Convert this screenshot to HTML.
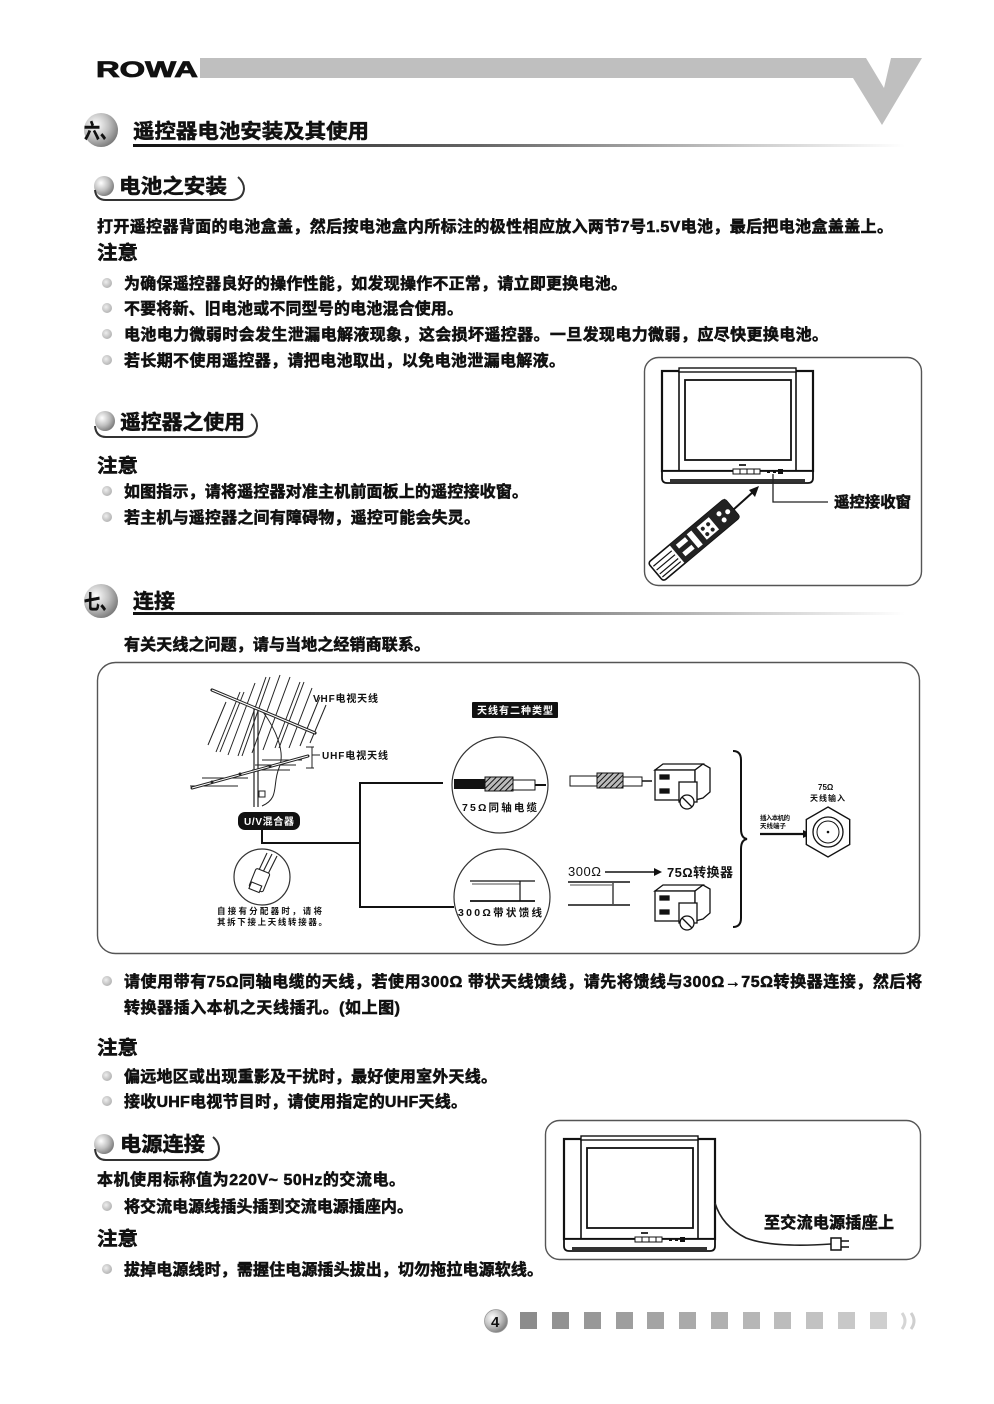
<!DOCTYPE html>
<html><head><meta charset="utf-8"><style>
html,body{margin:0;padding:0;background:#fff;}
svg{display:block;}
.t{font-family:"Liberation Sans","Noto Sans CJK SC",sans-serif;font-weight:700;fill:#111;stroke:#111;stroke-width:0.55;}
.s{font-family:"Liberation Sans","Noto Sans CJK SC",sans-serif;font-weight:700;fill:#111;}
.w{font-family:"Liberation Sans","Noto Sans CJK SC",sans-serif;font-weight:700;fill:#fff;}
.n{font-family:"Liberation Sans","Noto Sans CJK SC",sans-serif;font-weight:400;fill:#111;}
</style></head><body>
<svg width="994" height="1404" viewBox="0 0 994 1404" xmlns="http://www.w3.org/2000/svg">
<defs>
<linearGradient id="ul" x1="0" y1="0" x2="1" y2="0">
<stop offset="0" stop-color="#111"/><stop offset="0.45" stop-color="#666"/><stop offset="0.8" stop-color="#ccc"/><stop offset="1" stop-color="#fff"/>
</linearGradient>
<radialGradient id="sph" cx="0.35" cy="0.35" r="0.7">
<stop offset="0" stop-color="#fff"/><stop offset="0.55" stop-color="#c0c0c0"/><stop offset="1" stop-color="#7a7a7a"/>
</radialGradient>
<radialGradient id="bul" cx="0.4" cy="0.4" r="0.65">
<stop offset="0" stop-color="#eee"/><stop offset="1" stop-color="#b0b0b0"/>
</radialGradient>
<pattern id="hatch" width="4" height="4" patternUnits="userSpaceOnUse" patternTransform="rotate(45)">
<rect width="4" height="4" fill="#bbb"/><line x1="0" y1="0" x2="0" y2="4" stroke="#111" stroke-width="2"/>
</pattern>
</defs>

<!-- HEADER -->
<text x="96" y="77" class="s" font-size="22" textLength="102" lengthAdjust="spacingAndGlyphs" stroke="#111" stroke-width="0.8">ROWA</text>
<path d="M200 58 L866 58 L884 88 L891 58 L922 58 L882 125 L853 78 L200 78 Z" fill="#bfbfbf"/>

<!-- SECTION 六 -->
<circle cx="101" cy="130" r="17" fill="url(#sph)"/>
<text x="84" y="138" class="t" font-size="20" textLength="32" lengthAdjust="spacingAndGlyphs">六、</text>
<text x="133" y="138" class="t" font-size="20" textLength="236" lengthAdjust="spacingAndGlyphs">遥控器电池安装及其使用</text>
<rect x="133" y="144" width="772" height="3" fill="url(#ul)"/>

<!-- 电池之安装 -->
<circle cx="104" cy="186" r="10" fill="url(#sph)"/>
<text x="119" y="193" class="t" font-size="20" textLength="108" lengthAdjust="spacingAndGlyphs">电池之安装</text>
<path d="M95 190 Q96 200 106 200 L232 200 Q243 199 244 189 Q244 182 238 177" fill="none" stroke="#333" stroke-width="2"/>

<text x="97" y="232" class="t" font-size="16" textLength="796">打开遥控器背面的电池盒盖，然后按电池盒内所标注的极性相应放入两节7号1.5V电池，最后把电池盒盖盖上。</text>
<text x="97" y="259" class="t" font-size="19" textLength="41" lengthAdjust="spacingAndGlyphs">注意</text>

<circle cx="107" cy="283" r="5" fill="url(#bul)"/>
<text x="124" y="289" class="t" font-size="16" textLength="503">为确保遥控器良好的操作性能，如发现操作不正常，请立即更换电池。</text>
<circle cx="107" cy="308" r="5" fill="url(#bul)"/>
<text x="124" y="314" class="t" font-size="16" textLength="339">不要将新、旧电池或不同型号的电池混合使用。</text>
<circle cx="107" cy="334" r="5" fill="url(#bul)"/>
<text x="124" y="340" class="t" font-size="16" textLength="704">电池电力微弱时会发生泄漏电解液现象，这会损坏遥控器。一旦发现电力微弱，应尽快更换电池。</text>
<circle cx="107" cy="360" r="5" fill="url(#bul)"/>
<text x="124" y="366" class="t" font-size="16" textLength="441">若长期不使用遥控器，请把电池取出，以免电池泄漏电解液。</text>

<!-- 遥控器之使用 -->
<circle cx="105" cy="421" r="10" fill="url(#sph)"/>
<text x="120" y="429" class="t" font-size="20" textLength="125" lengthAdjust="spacingAndGlyphs">遥控器之使用</text>
<path d="M95 426 Q96 437 106 437 L246 437 Q256 436 257 426 Q257 419 251 414" fill="none" stroke="#333" stroke-width="2"/>
<text x="97" y="472" class="t" font-size="19" textLength="41" lengthAdjust="spacingAndGlyphs">注意</text>
<circle cx="107" cy="491" r="5" fill="url(#bul)"/>
<text x="124" y="497" class="t" font-size="16" textLength="404">如图指示，请将遥控器对准主机前面板上的遥控接收窗。</text>
<circle cx="107" cy="517" r="5" fill="url(#bul)"/>
<text x="124" y="523" class="t" font-size="16" textLength="356">若主机与遥控器之间有障碍物，遥控可能会失灵。</text>

<!-- REMOTE BOX -->
<rect x="644.5" y="357.5" width="277" height="228" rx="14" fill="none" stroke="#555" stroke-width="1.4"/>
<g transform="translate(662,368)" fill="#fff" stroke="#111">
<rect x="0" y="3" width="151" height="100" stroke-width="2.2"/>
<line x1="17" y1="3" x2="17" y2="103" stroke-width="1.6"/>
<line x1="134" y1="3" x2="134" y2="103" stroke-width="1.6"/>
<rect x="17" y="0" width="117" height="4" stroke-width="1.4"/>
<rect x="23" y="12" width="106" height="80" stroke-width="1.8"/>
<path d="M0 103 L151 103 L151 110 Q151 115 146 115 L5 115 Q0 115 0 110 Z" stroke-width="1.8"/>
<rect x="8" y="111" width="135" height="3" fill="#333" stroke="none"/>
<rect x="71" y="101" width="27" height="5" stroke-width="1"/>
<line x1="78" y1="101" x2="78" y2="106" stroke-width="1"/><line x1="85" y1="101" x2="85" y2="106" stroke-width="1"/><line x1="92" y1="101" x2="92" y2="106" stroke-width="1"/>
<rect x="77" y="96" width="7" height="2" fill="#333" stroke="none"/>
<rect x="105" y="102" width="3" height="3" fill="#111" stroke="none"/><rect x="111" y="102" width="3" height="3" fill="#111" stroke="none"/><rect x="116" y="101" width="5" height="5" fill="#111" stroke="none"/>
</g>
<polyline points="773,474 773,502 828,502" fill="none" stroke="#222" stroke-width="1.3"/>
<text x="834" y="507" class="t" font-size="15" textLength="77" lengthAdjust="spacingAndGlyphs">遥控接收窗</text>
<line x1="733" y1="510" x2="753" y2="492" stroke="#111" stroke-width="2"/>
<polygon points="759,486 749,490 755,497" fill="#111"/>
<g transform="translate(694,540) rotate(-40)">
<rect x="-50" y="-12" width="100" height="24" rx="3" fill="#fff" stroke="#111" stroke-width="1.6"/>
<line x1="-48" y1="-6" x2="-24" y2="-6" stroke="#111" stroke-width="1.2"/>
<line x1="-48" y1="-1" x2="-24" y2="-1" stroke="#111" stroke-width="1.2"/>
<line x1="-48" y1="4" x2="-24" y2="4" stroke="#111" stroke-width="1.2"/>
<line x1="-48" y1="8" x2="-24" y2="8" stroke="#111" stroke-width="1.2"/>
<rect x="-22" y="-12" width="72" height="24" fill="#222"/>
<rect x="-17" y="-8" width="12" height="5" fill="#fff"/>
<rect x="-17" y="2" width="12" height="5" fill="#fff"/>
<rect x="-2" y="-9" width="6" height="18" fill="#fff"/>
<rect x="10" y="-8" width="16" height="16" fill="#fff"/>
<circle cx="14" cy="-3" r="2" fill="#222"/><circle cx="21" cy="-3" r="2" fill="#222"/><circle cx="14" cy="4" r="2" fill="#222"/><circle cx="21" cy="4" r="2" fill="#222"/>
<circle cx="36" cy="-4" r="2.5" fill="#fff"/><circle cx="36" cy="4" r="2.5" fill="#fff"/><circle cx="44" cy="0" r="2.5" fill="#fff"/>
</g>

<!-- SECTION 七 -->
<circle cx="101" cy="601" r="17" fill="url(#sph)"/>
<text x="84" y="609" class="t" font-size="20" textLength="32" lengthAdjust="spacingAndGlyphs">七、</text>
<text x="133" y="608" class="t" font-size="20" textLength="42" lengthAdjust="spacingAndGlyphs">连接</text>
<rect x="133" y="612" width="772" height="3" fill="url(#ul)"/>
<text x="124" y="650" class="t" font-size="16" textLength="306">有关天线之问题，请与当地之经销商联系。</text>

<!-- DIAGRAM BOX -->
<rect x="97.5" y="662.5" width="822" height="291" rx="18" fill="none" stroke="#555" stroke-width="1.4"/>

<!-- antenna -->
<g stroke="#222" stroke-width="1" fill="none">
<line x1="208" y1="745" x2="226" y2="702"/>
<line x1="216" y1="752" x2="240" y2="692"/><line x1="220" y1="752" x2="244" y2="692"/>
<line x1="228" y1="755" x2="255" y2="683"/>
<line x1="238" y1="756" x2="266" y2="677"/><line x1="242" y1="756" x2="270" y2="677"/>
<line x1="252" y1="753" x2="280" y2="675"/>
<line x1="263" y1="750" x2="290" y2="677"/>
<line x1="275" y1="748" x2="300" y2="682"/><line x1="279" y1="748" x2="304" y2="682"/>
<line x1="289" y1="748" x2="312" y2="688"/>
<line x1="300" y1="746" x2="320" y2="697"/>
<line x1="310" y1="743" x2="326" y2="705"/>
<path d="M263 712 C275 728 286 752 279 768 C272 785 280 798 262 806"/>
<line x1="254" y1="708" x2="254" y2="807" stroke-width="1.2"/>
<line x1="258" y1="708" x2="258" y2="807" stroke-width="1.2"/>
<rect x="259" y="791" width="6" height="6" fill="#fff"/>
<line x1="262" y1="760" x2="302" y2="760"/>
<line x1="255" y1="765" x2="296" y2="765"/>
<line x1="252" y1="770" x2="290" y2="770"/>
<line x1="202" y1="778" x2="248" y2="778"/>
<line x1="190" y1="786" x2="238" y2="786"/>
<line x1="312" y1="747" x2="312" y2="768"/>
<line x1="306" y1="747" x2="314" y2="747"/><line x1="306" y1="768" x2="314" y2="768"/>
<line x1="312" y1="755" x2="320" y2="755"/>
</g>
<line x1="212" y1="690" x2="315" y2="733" stroke="#222" stroke-width="3.2" stroke-linecap="round"/>
<line x1="212" y1="690" x2="315" y2="733" stroke="#fff" stroke-width="1.2"/>
<line x1="192" y1="788" x2="308" y2="756" stroke="#222" stroke-width="3" stroke-linecap="round"/>
<line x1="192" y1="788" x2="308" y2="756" stroke="#fff" stroke-width="1"/>
<circle cx="212" cy="782" r="1.5" fill="#222"/><circle cx="240" cy="774" r="1.5" fill="#222"/><circle cx="270" cy="766" r="1.5" fill="#222"/>
<text x="313" y="702" class="s" font-size="10" textLength="65">VHF电视天线</text>
<text x="322" y="759" class="s" font-size="10" textLength="66">UHF电视天线</text>

<rect x="238" y="812" width="62" height="18" rx="7" fill="#111"/>
<text x="244" y="825" class="w" font-size="10" textLength="50">U/V混合器</text>

<polyline points="262,830 262,843 360,843" fill="none" stroke="#111" stroke-width="2"/>
<line x1="360" y1="782" x2="360" y2="908" stroke="#111" stroke-width="2"/>
<line x1="360" y1="783" x2="443" y2="783" stroke="#111" stroke-width="2"/>
<line x1="360" y1="907" x2="454" y2="907" stroke="#111" stroke-width="2"/>

<circle cx="262" cy="877" r="28" fill="#fff" stroke="#333" stroke-width="1.2"/>
<g stroke="#222" stroke-width="1.1" fill="#fff">
<line x1="272" y1="854" x2="263" y2="872"/><line x1="277" y1="856" x2="268" y2="874"/>
<line x1="267" y1="853" x2="259" y2="870"/>
<rect x="252" y="870" width="15" height="20" rx="2" transform="rotate(22 259 880)"/>
<rect x="250" y="884" width="11" height="7" transform="rotate(22 256 887)"/>
</g>
<text x="217" y="914" class="s" font-size="8.5" textLength="105">自接有分配器时，请将</text>
<text x="217" y="925" class="s" font-size="8.5" textLength="110">其拆下接上天线转接器。</text>

<rect x="472" y="702" width="86" height="16" rx="1" fill="#111"/>
<text x="477" y="714" class="w" font-size="10" textLength="76">天线有二种类型</text>

<!-- circle 1 coax -->
<circle cx="500" cy="785" r="48" fill="#fff" stroke="#333" stroke-width="1.2"/>
<rect x="454" y="779" width="31" height="10" fill="#111"/>
<rect x="485" y="777" width="28" height="14" fill="url(#hatch)" stroke="#111" stroke-width="1"/>
<rect x="513" y="780" width="22" height="10" fill="#fff" stroke="#111" stroke-width="1"/>
<line x1="535" y1="785" x2="546" y2="785" stroke="#111" stroke-width="2"/>
<text x="462" y="811" class="s" font-size="10.5" textLength="75">75Ω同轴电缆</text>

<!-- circle 2 ribbon -->
<circle cx="502" cy="897" r="48" fill="#fff" stroke="#333" stroke-width="1.2"/>
<line x1="470" y1="881" x2="535" y2="881" stroke="#111" stroke-width="1.2"/>
<line x1="470" y1="901" x2="535" y2="901" stroke="#111" stroke-width="1.8"/>
<line x1="520" y1="881" x2="520" y2="901" stroke="#111" stroke-width="1.2"/>
<line x1="472" y1="884" x2="520" y2="884" stroke="#111" stroke-width="0.8"/>
<text x="458" y="916" class="s" font-size="10.5" textLength="84">300Ω带状馈线</text>

<!-- middle coax -->
<rect x="570" y="776" width="27" height="10" fill="#fff" stroke="#111" stroke-width="1"/>
<rect x="597" y="773" width="26" height="15" fill="url(#hatch)" stroke="#111" stroke-width="1"/>
<rect x="623" y="777" width="19" height="9" fill="#fff" stroke="#111" stroke-width="1"/>
<line x1="642" y1="781" x2="652" y2="781" stroke="#111" stroke-width="1.5"/>

<!-- connector 1 -->
<g transform="translate(655,762)" fill="#fff" stroke="#111" stroke-width="1.3">
<polygon points="0,8 8,2 48,2 40,8"/>
<rect x="0" y="8" width="40" height="30"/>
<rect x="5" y="13" width="9" height="4" fill="#111"/>
<rect x="5" y="27" width="9" height="4" fill="#111"/>
<polygon points="40,8 48,2 55,6 55,30 48,36 40,38"/>
<rect x="24" y="20" width="18" height="20"/>
<circle cx="32" cy="40" r="7"/>
<line x1="27" y1="35" x2="37" y2="45"/>
</g>

<!-- 300 -> 75 -->
<text x="568" y="876" class="n" font-size="13" textLength="33">300Ω</text>
<line x1="605" y1="872" x2="655" y2="872" stroke="#111" stroke-width="1.6"/>
<polygon points="654,868 662,872 654,876" fill="#111"/>
<text x="667" y="877" class="s" font-size="13" textLength="66">75Ω转换器</text>

<line x1="568" y1="882" x2="630" y2="882" stroke="#111" stroke-width="1.6"/>
<line x1="568" y1="905" x2="630" y2="905" stroke="#111" stroke-width="1.6"/>
<line x1="570" y1="885" x2="612" y2="885" stroke="#111" stroke-width="0.8"/>
<line x1="613" y1="883" x2="613" y2="904" stroke="#111" stroke-width="1.2"/>

<!-- connector 2 -->
<g transform="translate(655,883)" fill="#fff" stroke="#111" stroke-width="1.3">
<polygon points="0,8 8,2 48,2 40,8"/>
<rect x="0" y="8" width="40" height="30"/>
<rect x="5" y="13" width="9" height="4" fill="#111"/>
<rect x="5" y="27" width="9" height="4" fill="#111"/>
<polygon points="40,8 48,2 55,6 55,30 48,36 40,38"/>
<rect x="24" y="20" width="18" height="20"/>
<circle cx="32" cy="40" r="7"/>
<line x1="27" y1="35" x2="37" y2="45"/>
</g>

<!-- brace -->
<path d="M733 751 Q741 751 741 760 L741 829 Q741 838 747 839 Q741 840 741 849 L741 918 Q741 927 733 927" fill="none" stroke="#111" stroke-width="2"/>

<!-- antenna input -->
<text x="818" y="790" class="s" font-size="8">75Ω</text>
<text x="810" y="801" class="s" font-size="8" textLength="35">天线输入</text>
<text x="760" y="820" class="s" font-size="6.5" textLength="30">插入本机的</text>
<text x="760" y="828" class="s" font-size="6.5" textLength="26">天线端子</text>
<line x1="760" y1="834" x2="805" y2="834" stroke="#111" stroke-width="2.2"/>
<polygon points="803,830 811,834 803,838" fill="#111"/>
<polygon points="828,807 849.7,819.5 849.7,844.5 828,857 806.3,844.5 806.3,819.5" fill="#fff" stroke="#111" stroke-width="1.4"/>
<circle cx="828" cy="832" r="15" fill="none" stroke="#111" stroke-width="1.3"/>
<circle cx="828" cy="832" r="11" fill="none" stroke="#111" stroke-width="1"/>
<circle cx="828" cy="832" r="1.3" fill="#111"/>

<!-- BOTTOM TEXT -->
<circle cx="107" cy="981" r="5" fill="url(#bul)"/>
<text x="124" y="987" class="t" font-size="16" textLength="798">请使用带有75Ω同轴电缆的天线，若使用300Ω 带状天线馈线，请先将馈线与300Ω→75Ω转换器连接，然后将</text>
<text x="124" y="1013" class="t" font-size="16" textLength="276">转换器插入本机之天线插孔。(如上图)</text>
<text x="97" y="1054" class="t" font-size="19" textLength="41" lengthAdjust="spacingAndGlyphs">注意</text>
<circle cx="107" cy="1076" r="5" fill="url(#bul)"/>
<text x="124" y="1082" class="t" font-size="16" textLength="373">偏远地区或出现重影及干扰时，最好使用室外天线。</text>
<circle cx="107" cy="1101" r="5" fill="url(#bul)"/>
<text x="124" y="1107" class="t" font-size="16" textLength="343">接收UHF电视节目时，请使用指定的UHF天线。</text>

<!-- 电源连接 -->
<circle cx="104" cy="1144" r="10" fill="url(#sph)"/>
<text x="120" y="1151" class="t" font-size="20" textLength="85" lengthAdjust="spacingAndGlyphs">电源连接</text>
<path d="M95 1149 Q96 1160 106 1160 L208 1160 Q218 1159 219 1149 Q219 1142 213 1137" fill="none" stroke="#333" stroke-width="2"/>
<text x="97" y="1185" class="t" font-size="16" textLength="308">本机使用标称值为220V~ 50Hz的交流电。</text>
<circle cx="107" cy="1206" r="5" fill="url(#bul)"/>
<text x="124" y="1212" class="t" font-size="16" textLength="289">将交流电源线插头插到交流电源插座内。</text>
<text x="97" y="1245" class="t" font-size="19" textLength="41" lengthAdjust="spacingAndGlyphs">注意</text>
<circle cx="107" cy="1269" r="5" fill="url(#bul)"/>
<text x="124" y="1275" class="t" font-size="16" textLength="419">拔掉电源线时，需握住电源插头拔出，切勿拖拉电源软线。</text>

<!-- POWER BOX -->
<rect x="545.5" y="1120.5" width="375" height="139" rx="14" fill="none" stroke="#555" stroke-width="1.4"/>
<g transform="translate(564,1136)" fill="#fff" stroke="#111">
<rect x="0" y="3" width="151" height="100" stroke-width="2.2"/>
<line x1="17" y1="3" x2="17" y2="103" stroke-width="1.6"/>
<line x1="134" y1="3" x2="134" y2="103" stroke-width="1.6"/>
<rect x="17" y="0" width="117" height="4" stroke-width="1.4"/>
<rect x="23" y="12" width="106" height="80" stroke-width="1.8"/>
<path d="M0 103 L151 103 L151 110 Q151 115 146 115 L5 115 Q0 115 0 110 Z" stroke-width="1.8"/>
<rect x="8" y="111" width="135" height="3" fill="#333" stroke="none"/>
<rect x="71" y="101" width="27" height="5" stroke-width="1"/>
<line x1="78" y1="101" x2="78" y2="106" stroke-width="1"/><line x1="85" y1="101" x2="85" y2="106" stroke-width="1"/><line x1="92" y1="101" x2="92" y2="106" stroke-width="1"/>
<rect x="77" y="96" width="7" height="2" fill="#333" stroke="none"/>
<rect x="105" y="102" width="3" height="3" fill="#111" stroke="none"/><rect x="111" y="102" width="3" height="3" fill="#111" stroke="none"/><rect x="116" y="101" width="5" height="5" fill="#111" stroke="none"/>
</g>
<path d="M715 1203 Q722 1226 746 1238 Q772 1248 831 1244" fill="none" stroke="#222" stroke-width="1.6"/>
<path d="M831 1238 L841 1238 L841 1250 L831 1250 Z" fill="#fff" stroke="#111" stroke-width="1.5"/>
<line x1="841" y1="1241" x2="849" y2="1241" stroke="#111" stroke-width="1.5"/>
<line x1="841" y1="1247" x2="849" y2="1247" stroke="#111" stroke-width="1.5"/>
<text x="764" y="1228" class="t" font-size="16" textLength="130">至交流电源插座上</text>

<!-- FOOTER -->
<circle cx="496" cy="1321" r="11.5" fill="url(#sph)" stroke="#999" stroke-width="0.8"/>
<text x="491" y="1327" class="s" font-size="15">4</text>
<rect x="520" y="1312" width="17" height="17" fill="#8c8c8c"/>
<rect x="552" y="1312" width="17" height="17" fill="#929292"/>
<rect x="584" y="1312" width="17" height="17" fill="#989898"/>
<rect x="616" y="1312" width="17" height="17" fill="#9e9e9e"/>
<rect x="647" y="1312" width="17" height="17" fill="#a4a4a4"/>
<rect x="679" y="1312" width="17" height="17" fill="#aaaaaa"/>
<rect x="711" y="1312" width="17" height="17" fill="#b0b0b0"/>
<rect x="743" y="1312" width="17" height="17" fill="#b6b6b6"/>
<rect x="774" y="1312" width="17" height="17" fill="#bcbcbc"/>
<rect x="806" y="1312" width="17" height="17" fill="#c2c2c2"/>
<rect x="838" y="1312" width="17" height="17" fill="#c8c8c8"/>
<rect x="870" y="1312" width="17" height="17" fill="#cfcfcf"/>
<path d="M902 1313 Q908 1321 902 1329" fill="none" stroke="#d5d5d5" stroke-width="3"/>
<path d="M911 1313 Q917 1321 911 1329" fill="none" stroke="#cfcfcf" stroke-width="3"/>
</svg>
</body></html>
